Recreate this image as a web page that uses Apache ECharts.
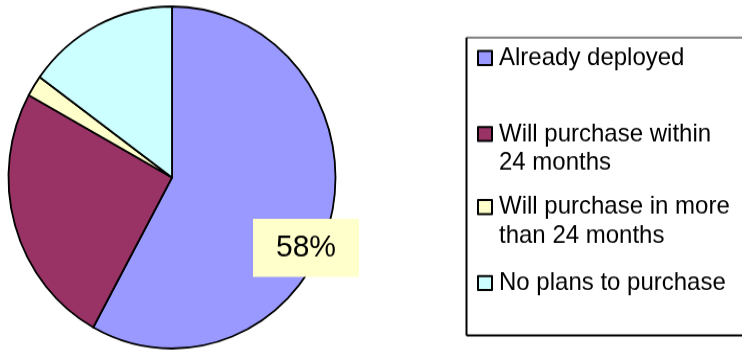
<!DOCTYPE html>
<html>
<head>
<meta charset="utf-8">
<script src="https://cdn.jsdelivr.net/npm/echarts@6/dist/echarts.min.js"></script>
<style>
  html, body { margin: 0; padding: 0; background: #fff; overflow: hidden; }
  /* the pie is drawn slightly taller than wide, so the canvas is stretched vertically */
  #chart { width: 742px; height: 351px; transform: scaleY(1.046); transform-origin: 0 177.5px; }
</style>
</head>
<body>
<div id="chart"></div>
<script>
// Survey answers: deployment status
const categories = [
  'Already deployed',
  'Will purchase within 24 months',
  'Will purchase in more than 24 months',
  'No plans to purchase'
];
const legendLines = [
  ['Already deployed'],
  ['Will purchase within', '24 months'],
  ['Will purchase in more', 'than 24 months'],
  ['No plans to purchase']
];
const shares = [58, 25, 2, 15];
const sliceColors = ['#9999FF', '#993366', '#FFFFCC', '#CCFFFF'];

const FONT = "'Liberation Sans', Arial, sans-serif";
const LINE_H = 27.7;
// centre of each entry's first text line
const legendFirstLine = [63.3, 135.9, 205.7, 278.4];

const chart = echarts.init(document.getElementById('chart'), null, { renderer: 'canvas' });

const pieData = categories.map((name, i) => ({
  name,
  value: shares[i],
  itemStyle: { color: sliceColors[i] },
  label: { show: i === 0 }
}));

// the marker sits beside the first line: a blank line above a two-line entry keeps it centred there
const legends = categories.map((name, i) => {
  const lines = legendLines[i];
  const text = lines.length > 1 ? [' '].concat(lines).join('\n') : lines[0];
  const above = lines.length > 1 ? 1.5 * LINE_H : 0.5 * LINE_H;
  return {
    data: [name],
    orient: 'vertical',
    left: 477,
    top: legendFirstLine[i] - above,
    padding: 0,
    itemWidth: 14,
    itemHeight: 13.4,
    icon: 'rect',
    selectedMode: false,
    formatter: () => text,
    textStyle: {
      fontFamily: FONT,
      fontSize: 24,
      lineHeight: LINE_H,
      color: '#000',
      padding: [0, 0, 0, 2]
    }
  };
});

chart.setOption({
  animation: false,
  backgroundColor: '#fff',
  legend: legends,
  graphic: [
    { type: 'line', shape: { x1: 466.5, y1: 43.7, x2: 745, y2: 43.7 }, style: { stroke: '#808080', lineWidth: 2 }, z: 1 },
    { type: 'line', shape: { x1: 466.5, y1: 43.7, x2: 466.5, y2: 328.5 }, style: { stroke: '#000', lineWidth: 2 }, z: 1 },
    { type: 'line', shape: { x1: 466.5, y1: 328.5, x2: 745, y2: 328.5 }, style: { stroke: '#000', lineWidth: 2 }, z: 1 }
  ],
  series: [{
    type: 'pie',
    center: [172, 177.5],
    radius: 163.5,
    startAngle: 90,
    clockwise: true,
    silent: true,
    data: pieData,
    itemStyle: { borderColor: '#000', borderWidth: 1.8 },
    emphasis: { disabled: true },
    labelLine: { show: false },
    label: {
      position: 'inside',
      formatter: '{d}%',
      fontFamily: FONT,
      fontSize: 30,
      lineHeight: 30,
      color: '#000',
      backgroundColor: '#FFFFCC',
      padding: [12.7, 23, 12.7, 23]
    },
    labelLayout: { x: 306, y: 244.8 }
  }]
});
</script>
</body>
</html>
